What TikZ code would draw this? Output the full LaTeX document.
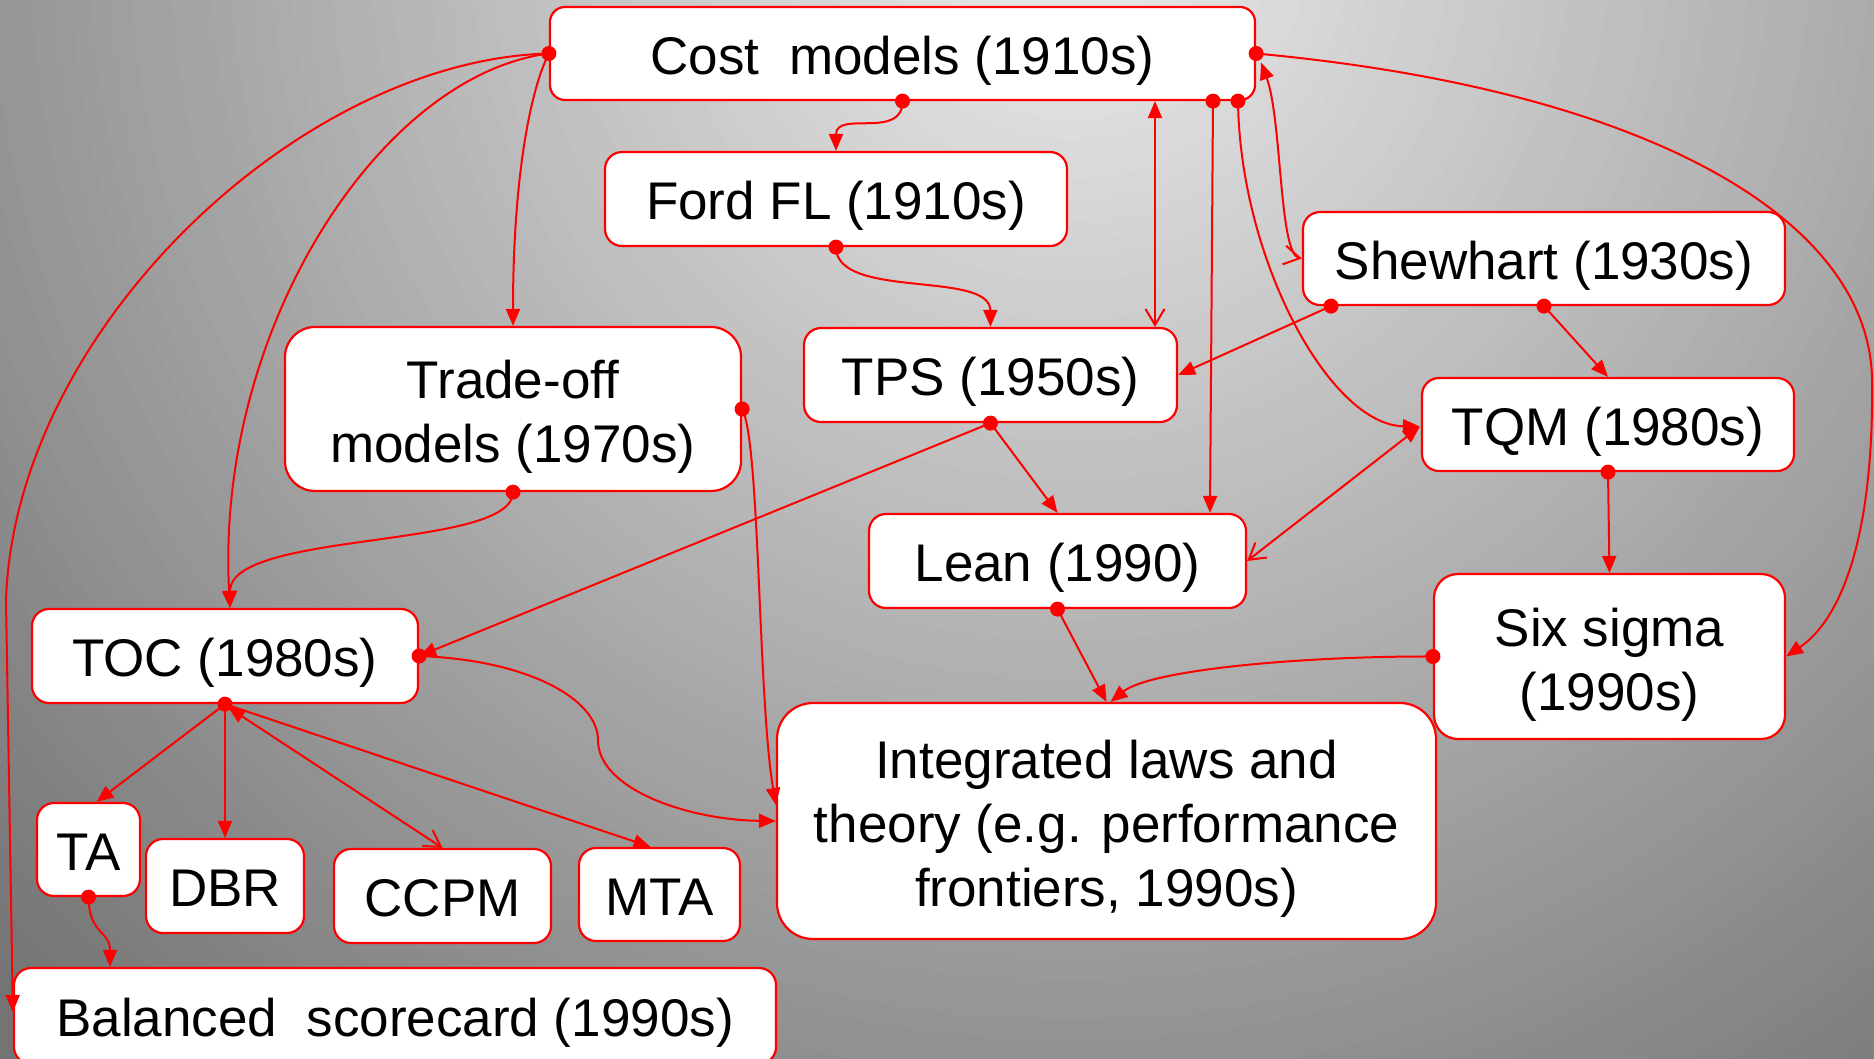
\documentclass[tikz,border=0pt]{standalone}
\usepackage{fontspec}
\setmainfont{Liberation Sans}
\usetikzlibrary{arrows.meta,calc}
\definecolor{bglight}{RGB}{236,236,236}
\definecolor{bgdark}{RGB}{116,116,116}
\definecolor{lred}{RGB}{255,0,0}
\newcommand\sstrut{\rule[-11pt]{0pt}{63pt}}
\newcommand\tstrut{\rule{0pt}{54pt}}
\tikzset{
  box/.style={draw=lred, line width=2.2pt, fill=white, rounded corners=#1, inner sep=0pt,
    align=center, font=\fontsize{53}{64}\selectfont},
  box/.default=17pt,
  conn/.style={draw=lred, line width=2pt},
  arr/.style={conn, -{Triangle[length=17pt,width=14pt]}},
  dbl/.style={conn, {Triangle[length=17pt,width=14pt]}-{Straight Barb[length=16pt,width=19pt]}},
}
\begin{document}
\begin{tikzpicture}[x=1pt,y=-1pt]
\useasboundingbox (0,0) rectangle (1874,1058);
% background
\begin{scope}
\clip (0,0) rectangle (1874,1058);
\foreach \i in {0,...,85} {
  \pgfmathsetmacro\r{1720-20*\i}
  \pgfmathsetmacro\p{min(100,\r/15)}
  \fill[bgdark!\p!bglight] (1070,-60) circle[radius=\r pt];
}
\end{scope}

% nodes
\node[box=15pt, minimum width=705pt, minimum height=93pt] (cost) at (902.5,53.5) {\sstrut Cost\ \ models (1910s)};
\node[box, minimum width=462pt, minimum height=94pt] (ford) at (836,199) {\sstrut Ford FL (1910s)};
\node[box=30pt, minimum width=456pt, minimum height=164pt] (trade) at (513,409) {\tstrut Trade-off\\models (1970s)};
\node[box, minimum width=373pt, minimum height=94pt] (tps) at (990.5,375) {\sstrut TPS (1950s)};
\node[box, minimum width=482pt, minimum height=93pt] (shew) at (1544,258.5) {\sstrut Shewhart (1930s)};
\node[box, minimum width=372pt, minimum height=93pt] (tqm) at (1608,424.5) {\sstrut TQM (1980s)};
\node[box, minimum width=377pt, minimum height=94pt] (lean) at (1057.5,561) {\sstrut Lean (1990)};
\node[box=24pt, minimum width=351pt, minimum height=165pt] (six) at (1609.5,656.5) {\tstrut Six sigma\\(1990s)};
\node[box=36pt, minimum width=659pt, minimum height=236pt] (integ) at (1106.5,821) {\tstrut Integrated laws and\\theory (e.g. performance\\frontiers, 1990s)};
\node[box, minimum width=386pt, minimum height=94pt] (toc) at (225,656) {\sstrut TOC (1980s)};
\node[box, minimum width=103pt, minimum height=93pt] (ta) at (88.5,849.5) {\sstrut TA};
\node[box, minimum width=158pt, minimum height=94pt] (dbr) at (225,886) {\sstrut DBR};
\node[box, minimum width=217pt, minimum height=94pt] (ccpm) at (442.5,896) {\sstrut CCPM};
\node[box, minimum width=161pt, minimum height=93pt] (mta) at (659.5,894.5) {\sstrut MTA};
\node[box, minimum width=762pt, minimum height=96pt] (bsc) at (395,1016) {\sstrut Balanced\ \ scorecard (1990s)};

% ports
\coordinate (cB2) at ([xshift=252.5pt]cost.south);
\coordinate (tT2) at ([xshift=164.5pt]tps.north);
\coordinate (cB3) at ([xshift=310.5pt]cost.south);
\coordinate (lT2) at ([xshift=152.5pt]lean.north);
\coordinate (cB4) at ([xshift=335.5pt]cost.south);
\coordinate (cR2) at ([shift={(5,9)}]cost.east);
\coordinate (sB1) at ([xshift=-213pt]shew.south);
\coordinate (tqW) at ([shift={(-1,2)}]tqm.west);
\coordinate (iN2) at ([xshift=4pt]integ.north);
\coordinate (tcN2) at ([xshift=5pt]toc.north);
\coordinate (iW2) at ([yshift=16pt]integ.west);
\coordinate (taN) at ([xshift=8pt]ta.north);
\coordinate (tcS2) at ([shift={(3,3)}]toc.south);
\coordinate (mtN) at ([xshift=-9pt]mta.north);
\coordinate (bsN) at ([xshift=-285pt]bsc.north);
\coordinate (bsW) at ([yshift=4pt]bsc.west);

% connectors
\draw[arr] (cost.west) .. controls (530,90) and (513,180) .. (trade.north);
\draw[arr] (cost.west) .. controls (380,75) and (215,330) .. (tcN2);
\draw[arr] (cost.west) .. controls (300,60) and (15,330) .. (6,600) -- (bsW);
\draw[arr] (cost.south) .. controls (903,140) and (836,110) .. (ford.north);
\draw[arr] (ford.south) .. controls (836,300) and (990,270) .. (tps.north);
\draw[dbl] (cB2) -- (tT2);
\draw[arr] (cB3) -- (lT2);
\draw[arr] (cB4) .. controls (1240,260) and (1330,425) .. (tqW);
\draw[arr] (cost.east) .. controls (1650,90) and (1870,220) .. (1872,380)
   .. controls (1874,540) and (1840,620) .. (six.east);
\draw[dbl] (cR2) .. controls (1282,120) and (1279,254) .. (shew.west);
\draw[arr] (sB1) -- (tps.east);
\draw[arr] (shew.south) -- (tqm.north);
\draw[dbl] (tqW) -- (lean.east);
\draw[arr] (tqm.south) -- (six.north);
\draw[arr] (tps.south) -- (toc.east);
\draw[arr] (tps.south) -- (lean.north);
\draw[arr] (lean.south) -- (integ.north);
\draw[arr] (six.west) .. controls (1300,656) and (1150,670) .. (iN2);
\draw[arr] (trade.south) .. controls (513,550) and (230,530) .. (tcN2);
\draw[arr] (trade.east) .. controls (760,440) and (758,700) .. (iW2);
\draw[arr] (toc.east) .. controls (530,660) and (598,700) .. (598,740)
   .. controls (598,790) and (690,820) .. (integ.west);
\draw[arr] (toc.south) -- (taN);
\draw[arr] (toc.south) -- (dbr.north);
\draw[dbl] (tcS2) -- (ccpm.north);
\draw[arr] (toc.south) -- (mtN);
\draw[arr] (ta.south) .. controls (89,935) and (110,930) .. (bsN);

% dots
\foreach \c in {cost.west, cost.south, cB3, cB4, cost.east, ford.south, trade.south,
  trade.east, tps.south, sB1, shew.south, tqm.south, lean.south, six.west, toc.east,
  toc.south, ta.south}
  \fill[lred] (\c) circle[radius=7.5pt];
\end{tikzpicture}
\end{document}
